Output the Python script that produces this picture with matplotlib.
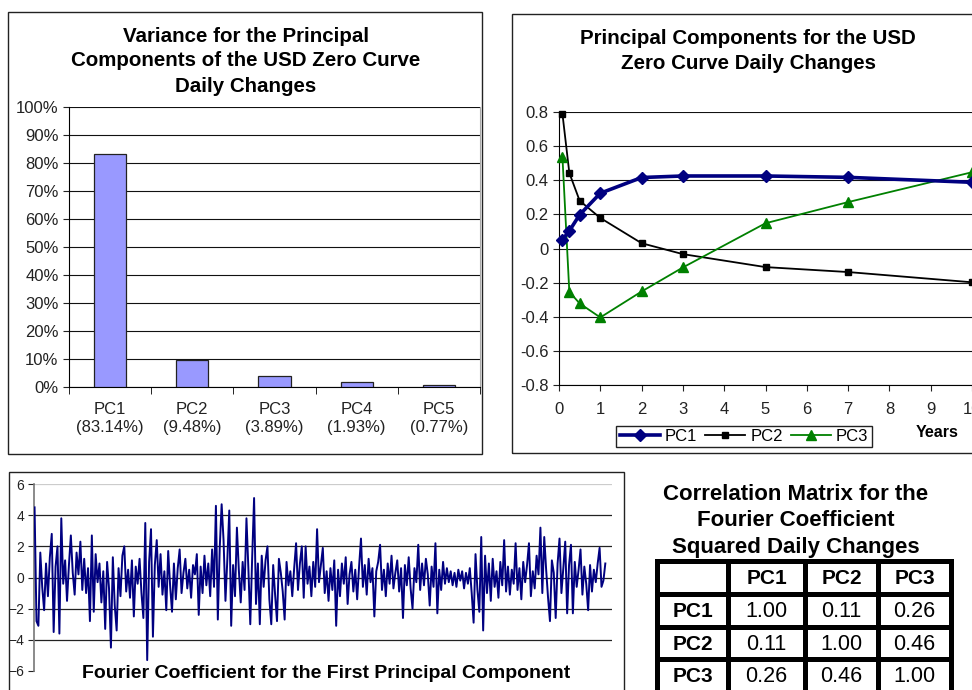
import numpy as np
import matplotlib
matplotlib.use("Agg")
import matplotlib.pyplot as plt
from matplotlib.patches import Rectangle
from matplotlib.ticker import PercentFormatter

plt.rcParams["font.family"] = "Liberation Sans"

W, H = 972, 690

# ── data ────────────────────────────────────────────────────────────────
pc_names = ["PC1", "PC2", "PC3", "PC4", "PC5"]
pc_variance = [0.8314, 0.0948, 0.0389, 0.0193, 0.0077]

maturities = [0.083, 0.25, 0.5, 1, 2, 3, 5, 7, 10]
pc1_load = [0.052, 0.103, 0.198, 0.324, 0.416, 0.425, 0.425, 0.417, 0.388]
pc2_load = [0.790, 0.443, 0.280, 0.179, 0.031, -0.033, -0.109, -0.138, -0.198]
pc3_load = [0.538, -0.254, -0.322, -0.404, -0.252, -0.111, 0.148, 0.272, 0.447]

fourier_pc1 = [
    4.5, -2.8, -3.1, 1.6, -0.6, -2.1, 0.9, -1.2, 1.3, 2.8, -3.5, 0.7, 2.0, -3.6, 3.8, -0.4, 1.1, -1.5, 0.8, 2.7,
    0.3, -1.1, 1.6, 0.2, 2.3, -0.8, 1.2, -1.0, 0.6, -2.8, 2.7, -2.2, 1.5, -0.3, 0.9, -1.6, 0.4, -3.3, 1.0, -0.7,
    -4.5, 1.3, -1.8, -3.4, 0.6, -1.2, 1.4, 2.0, -0.9, 0.5, -1.3, 1.1, -2.5, 0.7, -0.4, 1.2, -1.0, -2.6, 3.5, -5.3,
    1.0, 3.1, -3.8, 0.8, 2.4, -0.6, 1.5, -1.1, 0.4, -2.1, 1.7, -0.5, -2.2, 0.9, -1.4, 0.6, 1.8, -1.0, 0.3, 1.2,
    -0.7, 0.5, -1.3, 0.8, 0.2, 1.5, -2.4, 0.7, -1.0, 1.4, -0.5, 0.9, -1.2, 1.8, -0.6, 4.6, -2.7, 1.9, 4.7, 2.4,
    -1.5, 1.2, 4.3, -3.1, 0.8, -1.2, 3.2, 0.5, -1.6, 1.0, -0.8, 3.8, 0.6, -3.0, 1.3, 5.1, -1.7, 0.9, -3.0, 1.4,
    -0.6, 1.1, 2.0, -1.4, -3.0, 0.8, -1.1, -2.8, 1.2, 0.3, -0.9, -2.7, 1.0, -0.5, 0.4, -1.2, 0.6, 2.2, -0.8, 0.9,
    2.0, -1.3, 2.0, -0.4, 0.7, -1.2, 1.0, -0.6, 3.1, -0.3, 0.8, 1.9, -1.0, 0.4, -1.5, 0.6, -0.8, 1.1, -3.1, 0.5,
    -1.2, 0.9, -0.4, 1.3, -1.7, 0.2, 1.0, -0.9, 0.5, -1.4, 0.7, 2.5, -0.6, 0.8, -1.1, 1.2, -0.3, 0.6, -2.5, 0.4,
    1.0, 2.1, -0.8, 0.5, -1.2, 0.9, -0.4, 1.4, -0.7, 0.3, 1.1, -0.9, 0.6, -2.6, 0.8, -0.5, 1.3, -0.7, -2.0, 0.6,
    -0.3, 2.1, -0.8, 0.9, -0.5, 1.2, 0.2, -1.8, 0.7, -0.6, 2.2, -2.3, 0.5, -0.8, 1.0, -0.4, 0.6, -0.3, 0.4, -0.5,
    0.3, -0.6, 0.5, -0.2, 0.4, -0.7, 0.3, -0.4, 0.6, -1.0, -2.9, 1.5, -0.8, -2.2, 2.6, -3.4, 1.4, -1.0, 0.9, -1.5,
    1.2, -0.6, 0.4, -1.3, 1.0, -0.5, 2.4, -0.9, 0.7, -1.1, 0.5, -0.4, 2.2, -0.8, 0.6, -1.4, 1.0, -0.3, 0.8, 2.2,
    -1.2, 0.4, -0.7, 1.4, 0.2, 3.2, -1.0, 2.6, 0.5, -1.3, -2.8, 1.1, 0.3, -2.6, 0.9, 2.5, -1.0, 0.6, 2.3, -2.3,
    0.8, 2.1, -2.3, 1.0, -0.6, 0.5, 1.8, -1.1, 0.7, -0.4, -2.1, 0.8, -0.9, 0.5, -0.3, 0.9, 1.9, -0.6, -0.2, 0.9,
]

corr_labels = ["PC1", "PC2", "PC3"]
corr_matrix = [
    [1.00, 0.11, 0.26],
    [0.11, 1.00, 0.46],
    [0.26, 0.46, 1.00],
]

NAVY = "#000080"
GREEN = "#008000"
BAR = "#9999FF"


def px_box(x0, y0, x1, y1):
    """pixel box (top-left origin) -> figure fraction [l, b, w, h]"""
    return [x0 / W, 1 - y1 / H, (x1 - x0) / W, (y1 - y0) / H]


def frame(fig, x0, y0, x1, y1):
    l, b, w, h = px_box(x0, y0, x1, y1)
    fig.patches.append(Rectangle((l, b), w, h, transform=fig.transFigure,
                                 fill=False, edgecolor="#222222", linewidth=1.0))


fig = plt.figure(figsize=(W / 100, H / 100), dpi=100)
fig.patch.set_facecolor("white")

# ── 1. variance bar chart ───────────────────────────────────────────────
frame(fig, 8, 12, 482, 454)
ax1 = fig.add_axes(px_box(69, 107, 480, 387))
xpos = np.arange(len(pc_names))
ax1.bar(xpos, pc_variance, width=0.39, color=BAR, edgecolor="#222222", linewidth=0.9, zorder=3)
ax1.set_xlim(-0.5, len(pc_names) - 0.5)
ax1.set_ylim(0, 1)
ax1.set_yticks(np.arange(0, 1.01, 0.1))
ax1.yaxis.set_major_formatter(PercentFormatter(1.0, decimals=0))
ax1.yaxis.grid(True, color="#111111", linewidth=0.8, zorder=0)
ax1.set_xticks(xpos)
ax1.set_xticklabels([f"{n}\n({v * 100:.2f}%)" for n, v in zip(pc_names, pc_variance)],
                    fontsize=12, color="#222222", linespacing=1.25)
ax1.set_xticks(np.arange(-0.5, len(pc_names)), minor=True)
ax1.tick_params(axis="x", which="major", length=0, pad=11)
ax1.tick_params(axis="x", which="minor", length=5, direction="out")
ax1.tick_params(axis="y", length=4, direction="out", labelsize=12, colors="#222222")
ax1.spines["top"].set_visible(False)
ax1.spines["right"].set_color("#aaaaaa")
fig.text(246 / W, 1 - 61 / H, "Variance for the Principal\nComponents of the USD Zero Curve\nDaily Changes",
         ha="center", va="center", fontsize=14.8, fontweight="bold", linespacing=1.4)

# ── 2. principal component loadings ─────────────────────────────────────
frame(fig, 512, 14, 1100, 453)
ax2 = fig.add_axes(px_box(559, 112, 972, 385))
l1, = ax2.plot(maturities, pc1_load, color=NAVY, linewidth=2.6, marker="D", markersize=6, clip_on=False, zorder=5)
l2, = ax2.plot(maturities, pc2_load, color="black", linewidth=1.3, marker="s", markersize=5, clip_on=False, zorder=4)
l3, = ax2.plot(maturities, pc3_load, color=GREEN, linewidth=1.3, marker="^", markersize=6.5, clip_on=False, zorder=4)
ax2.set_xlim(0, 10)
ax2.set_ylim(-0.8, 0.8)
ax2.set_xticks(range(0, 11))
ax2.set_yticks(np.arange(-0.8, 0.81, 0.2))
ax2.set_yticklabels(["-0.8", "-0.6", "-0.4", "-0.2", "0", "0.2", "0.4", "0.6", "0.8"])
ax2.yaxis.grid(True, color="#111111", linewidth=0.8, zorder=0)
ax2.tick_params(length=4, direction="out", labelsize=12, colors="#222222")
ax2.tick_params(axis="x", pad=8)
ax2.spines["top"].set_visible(False)
ax2.spines["right"].set_visible(False)
fig.legend([l1, l2, l3], ["PC1", "PC2", "PC3"], loc="center",
           bbox_to_anchor=(744 / W, 1 - 436.5 / H), ncol=3, fontsize=12,
           frameon=True, fancybox=False, edgecolor="#222222", framealpha=1,
           handlelength=2.4, handletextpad=0.3, columnspacing=0.5, borderpad=0.2)
fig.text(937 / W, 1 - 432 / H, "Years", ha="center", va="center", fontsize=11.5, fontweight="bold")
fig.text(748 / W, 1 - 51 / H, "Principal Components for the USD\nZero Curve Daily Changes",
         ha="center", va="center", fontsize=14.8, fontweight="bold", linespacing=1.4)

# ── 3. Fourier coefficient time series ──────────────────────────────────
frame(fig, 9, 472, 624, 760)
ax3 = fig.add_axes(px_box(34, 484, 612, 671))
n = len(fourier_pc1)
ax3.plot(np.arange(n), fourier_pc1, color=NAVY, linewidth=1.4, zorder=3)
ax3.set_xlim(-0.3, n - 1 + 3.5)
ax3.set_ylim(-6, 6)
ax3.set_yticks(range(-6, 7, 2))
ax3.set_xticks([])
for yv in range(-4, 7, 2):
    ax3.axhline(yv, color="#cccccc" if yv == 6 else "#222222", linewidth=0.9, zorder=1)
for s in ["top", "right", "bottom"]:
    ax3.spines[s].set_visible(False)
ax3.spines["left"].set_color("#777777")
ax3.spines["left"].set_linewidth(1.2)
ax3.tick_params(axis="y", length=4, direction="out", labelsize=10, colors="#222222", pad=3)
fig.text(326 / W, 1 - 673 / H, "Fourier Coefficient for the First Principal Component",
         ha="center", va="center", fontsize=14, fontweight="bold")

# ── 4. correlation matrix table ─────────────────────────────────────────
fig.text(796 / W, 1 - 521 / H, "Correlation Matrix for the\nFourier Coefficient\nSquared Daily Changes",
         ha="center", va="center", fontsize=16, fontweight="bold", linespacing=1.32)
col_edges = [657, 728, 805, 878, 951]
row_edges = [561, 594, 627, 659, 692]
ax4 = fig.add_axes(px_box(col_edges[0], row_edges[0], col_edges[-1], row_edges[-1]))
ax4.set_xlim(col_edges[0], col_edges[-1])
ax4.set_ylim(row_edges[-1], row_edges[0])
ax4.axis("off")
for xe in col_edges:
    ax4.plot([xe, xe], [row_edges[0], row_edges[-1]], color="black", linewidth=3.6,
             solid_capstyle="projecting", clip_on=False)
for ye in row_edges:
    ax4.plot([col_edges[0], col_edges[-1]], [ye, ye], color="black", linewidth=3.6,
             solid_capstyle="projecting", clip_on=False)


def cell_center(r, c):
    return (col_edges[c] + col_edges[c + 1]) / 2, (row_edges[r] + row_edges[r + 1]) / 2 + 1


for j, lab in enumerate(corr_labels):
    cx, cy = cell_center(0, j + 1)
    ax4.text(cx, cy, lab, ha="center", va="center", fontsize=15, fontweight="bold")
for i, lab in enumerate(corr_labels):
    cx, cy = cell_center(i + 1, 0)
    ax4.text(cx, cy, lab, ha="center", va="center", fontsize=15, fontweight="bold")
    for j in range(len(corr_labels)):
        cx, cy = cell_center(i + 1, j + 1)
        ax4.text(cx, cy, f"{corr_matrix[i][j]:.2f}", ha="center", va="center", fontsize=15.5)

fig.savefig("out.png", dpi=100, facecolor="white")
